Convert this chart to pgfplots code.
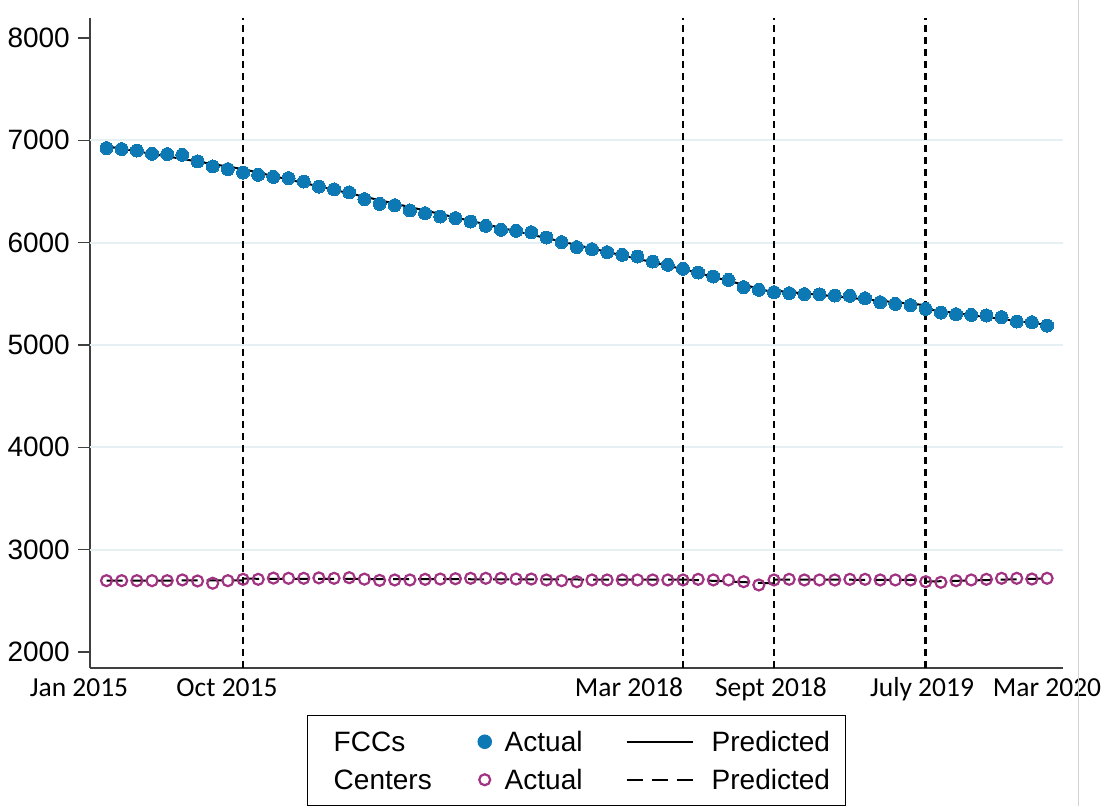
\documentclass[border=0pt]{standalone}
\usepackage{fontspec}
\setmainfont{Liberation Sans}
\newfontfamily\carlito{Carlito}
\usepackage{pgfplots}
\pgfplotsset{compat=1.18}
\usepackage{pgfplotstable}
\definecolor{fccblue}{RGB}{12,120,180}
\definecolor{ctrpurple}{RGB}{162,50,130}
\definecolor{axisgray}{RGB}{64,64,64}
\definecolor{gridc}{RGB}{230,239,241}

\pgfplotstableread{
m v
0 6924
1 6914
2 6900
3 6868
4 6865
5 6858
6 6793
7 6744
8 6718
9 6685
10 6663
11 6643
12 6630
13 6597
14 6548
15 6521
16 6490
17 6425
18 6379
19 6366
20 6314
21 6288
22 6255
23 6239
24 6206
25 6164
26 6125
27 6115
28 6102
29 6050
30 6005
31 5956
32 5936
33 5907
34 5881
35 5864
36 5815
37 5783
38 5744
39 5708
40 5669
41 5636
42 5565
43 5539
44 5516
45 5506
46 5497
47 5495
48 5483
49 5480
50 5457
51 5418
52 5402
53 5389
54 5353
55 5317
56 5301
57 5294
58 5288
59 5272
60 5229
61 5223
62 5190
}\fccdata

\pgfplotstableread{
m v
0 2697
1 2697
2 2697
3 2697
4 2697
5 2704
6 2694
7 2672
8 2697
9 2710
10 2710
11 2722
12 2720
13 2720
14 2724
15 2720
16 2726
17 2712
18 2700
19 2704
20 2704
21 2710
22 2713
23 2716
24 2720
25 2720
26 2720
27 2713
28 2713
29 2704
30 2697
31 2687
32 2704
33 2704
34 2704
35 2704
36 2704
37 2704
38 2704
39 2710
40 2704
41 2704
42 2687
43 2655
44 2704
45 2710
46 2704
47 2704
48 2704
49 2710
50 2710
51 2704
52 2704
53 2704
54 2687
55 2681
56 2697
57 2704
58 2710
59 2720
60 2720
61 2713
62 2720
}\ctrdata

\begin{document}
\begin{tikzpicture}
\useasboundingbox (0pt,0pt) rectangle (1102pt,806pt);
\begin{axis}[
  at={(90pt,138pt)}, anchor=south west,
  scale only axis, width=973pt, height=650pt,
  xmin=-1.088, xmax=63.05,
  ymin=1843.6, ymax=8195,
  axis x line=bottom, axis y line=left,
  axis line style={-, line width=1.5pt, axisgray},
  xtick=\empty,
  ytick={2000,3000,4000,5000,6000,7000,8000},
  yticklabels={2000,3000,4000,5000,6000,7000,8000},
  tick align=outside,
  major tick length=12pt,
  tick style={line width=1.5pt, axisgray},
  yticklabel style={font=\fontsize{28}{30}\selectfont, inner sep=0pt, anchor=east, xshift=-8pt},
  extra y ticks={3000,4000,5000,6000,7000},
  extra y tick labels={},
  extra y tick style={grid=major, major tick length=0pt},
  grid style={line width=2pt, gridc},
  legend columns=3,
  legend cell align=left,
  legend style={at={(0.2230,-0.0723)}, anchor=north west,
    draw=black, line width=1.5pt, fill=white,
    inner xsep=0pt, inner ysep=16pt,
    column sep=0pt, row sep=18pt,
    nodes={inner sep=0pt, text height=20pt, text depth=0pt,
      font=\fontsize{28}{30}\selectfont}},
]
% vertical dashed reference lines
\addplot[forget plot, black, line width=2.8pt, dash pattern=on 7pt off 5pt] coordinates {(9,1843.6) (9,8195)};
\addplot[forget plot, black, line width=2.8pt, dash pattern=on 7pt off 5pt] coordinates {(38,1843.6) (38,8195)};
\addplot[forget plot, black, line width=2.8pt, dash pattern=on 7pt off 5pt] coordinates {(44,1843.6) (44,8195)};
\addplot[forget plot, black, line width=2.8pt, dash pattern=on 7pt off 5pt] coordinates {(54,1843.6) (54,8195)};

% FCCs actual
\addplot[forget plot, only marks, mark=*, mark size=6.5pt, fccblue, mark options={fill=fccblue, draw=fccblue, line width=0pt}] table[x=m, y=v] {\fccdata};
% FCCs predicted (segmented)
\addplot[forget plot, black, line width=2pt] coordinates {(0,6942) (9,6718)};
\addplot[forget plot, black, line width=2pt] coordinates {(9,6718) (38,5741)};
\addplot[forget plot, black, line width=2pt] coordinates {(38,5741) (44,5512)};
\addplot[forget plot, black, line width=2pt] coordinates {(44,5532) (54,5389)};
\addplot[forget plot, black, line width=2pt] coordinates {(54,5350) (62,5196)};

% Centers actual
\addplot[forget plot, only marks, mark=o, mark size=5.5pt, ctrpurple, mark options={line width=2.2pt, draw=ctrpurple}] table[x=m, y=v] {\ctrdata};
% Centers predicted (segmented, dashed)
\addplot[forget plot, black, line width=2pt, dash pattern=on 16pt off 9pt] coordinates {(0,2697) (9,2700)};
\addplot[forget plot, black, line width=2pt, dash pattern=on 16pt off 9pt] coordinates {(9,2716) (38,2706)};
\addplot[forget plot, black, line width=2pt, dash pattern=on 16pt off 9pt] coordinates {(38,2708) (44,2670)};
\addplot[forget plot, black, line width=2pt, dash pattern=on 16pt off 9pt] coordinates {(44,2708) (54,2704)};
\addplot[forget plot, black, line width=2pt, dash pattern=on 16pt off 9pt] coordinates {(54,2688) (62,2718)};

% legend
\addlegendimage{legend image code/.code={\path[draw=none,fill=none] (0pt,-10pt) rectangle (26pt,10pt);}}
\addlegendentry[text width=141pt]{FCCs}
\addlegendimage{legend image code/.code={\path[draw=none,fill=none] (0pt,-10pt) rectangle (30pt,10pt); \fill[fccblue] (10pt,0pt) circle (6.5pt);}}
\addlegendentry[text width=121pt]{Actual}
\addlegendimage{legend image code/.code={\path[draw=none,fill=none] (0pt,-10pt) rectangle (85pt,10pt); \draw[black, line width=2pt] (0pt,0pt) -- (66pt,0pt);}}
\addlegendentry[text width=134pt]{Predicted}
\addlegendimage{legend image code/.code={\path[draw=none,fill=none] (0pt,-10pt) rectangle (26pt,10pt);}}
\addlegendentry[text width=141pt]{Centers}
\addlegendimage{legend image code/.code={\path[draw=none,fill=none] (0pt,-10pt) rectangle (30pt,10pt); \draw[ctrpurple, line width=2.2pt] (10pt,0pt) circle (5.5pt);}}
\addlegendentry[text width=121pt]{Actual}
\addlegendimage{legend image code/.code={\path[draw=none,fill=none] (0pt,-10pt) rectangle (85pt,10pt); \draw[black, line width=2pt, dash pattern=on 16pt off 9pt] (0pt,0pt) -- (66pt,0pt);}}
\addlegendentry[text width=134pt]{Predicted}
\end{axis}
% x-axis date labels
\begin{scope}[every node/.style={font=\carlito\fontsize{27.5}{30}\selectfont, anchor=base, inner sep=0pt}]
\node at (79pt,110pt) {Jan 2015};
\node at (227pt,110pt) {Oct 2015};
\node at (629pt,110pt) {Mar 2018};
\node at (771pt,110pt) {Sept 2018};
\node at (922pt,110pt) {July 2019};
\node at (1047pt,110pt) {Mar 2020};
\end{scope}
\draw[gray!35, line width=1pt] (1078pt,0pt) -- (1078pt,806pt);
\end{tikzpicture}
\end{document}
